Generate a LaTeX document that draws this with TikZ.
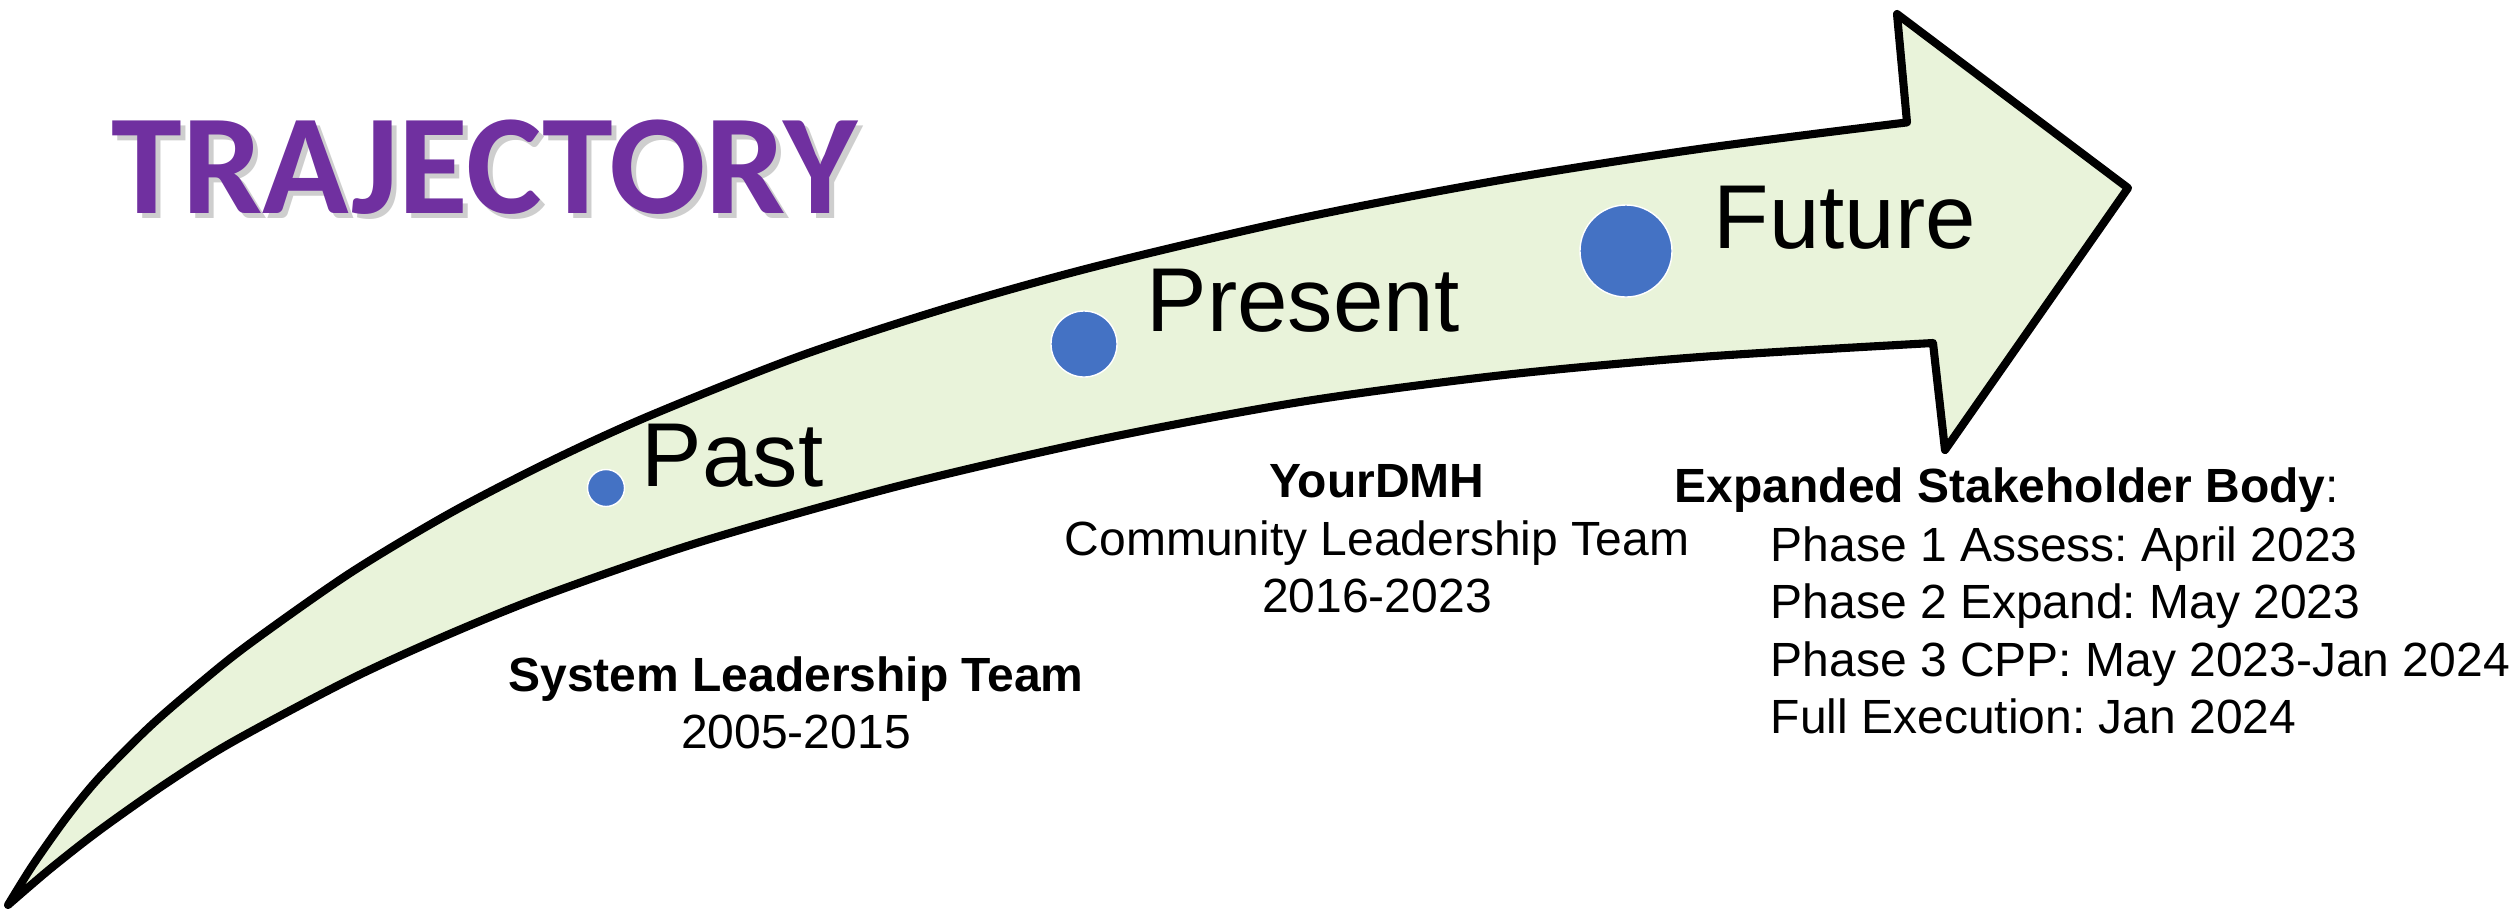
\documentclass[tikz,border=0pt]{standalone}
\usepackage{fontspec}
\setmainfont{Liberation Sans}
\newfontfamily\titlefont{Carlito}
\frenchspacing
\definecolor{arrowfill}{HTML}{E9F3DA}
\definecolor{dotblue}{HTML}{4472C4}
\definecolor{titlepurple}{HTML}{7030A0}
\tikzset{
  arrowbody/.style={draw=black, fill=arrowfill, line width=2.3pt, line join=round},
  dotc/.style={circle, fill=dotblue, draw=white, line width=0.4pt, inner sep=0pt},
  biglabel/.style={inner sep=0pt, anchor=base west, font=\fontsize{25.8pt}{30pt}\selectfont},
  txt/.style={inner sep=0pt, font=\fontsize{13.65pt}{16.4pt}\selectfont},
  txtb/.style={inner sep=0pt, font=\fontsize{13.65pt}{16.4pt}\selectfont\bfseries},
  titletxt/.style={inner sep=0pt, anchor=base west, font=\titlefont\bfseries\fontsize{40.6pt}{48pt}\selectfont}
}
\begin{document}
\begin{tikzpicture}[x=0.01cm,y=-0.01cm]
\useasboundingbox (0,0) rectangle (2517,911);

% arrow
\coordinate (tail) at (8,905);
\coordinate (uneck) at (1907,122.4);
\coordinate (btop) at (1897,14);
\coordinate (tip) at (2128,188);
\coordinate (bbot) at (1945,450);
\coordinate (lneck) at (1933,343);
\draw[arrowbody]
  plot[smooth, tension=0.5] coordinates {(8,905) (33,864.8) (67,816.8) (100,776.7) (150,726.4) (200,683.2) (250,643.4) (350,573.1) (450,513.2) (550,461.4) (650,415.6) (800,356) (950,307) (1100,265.3) (1300,218.4) (1500,180.1) (1700,148.8) (1907,122.4)}
  -- (btop) -- (tip) -- (bbot) -- (lneck)
  -- plot[smooth, tension=0.5] coordinates {(1933,343) (1700,357) (1500,375.4) (1300,402) (1100,439.4) (900,485.6) (700,542) (550,593.5) (450,633.8) (350,679.4) (233,741.6) (167,782.8) (100,829.9) (50,869) (8,905)}
  -- cycle;

% title with shadow
\node[titletxt, text=black!35, opacity=0.55] (titleshadow) at (116,218) {TRAJECTORY};
\node[titletxt, text=titlepurple] (title) at (111,213) {TRAJECTORY};

% dots
\node[dotc, minimum size=0.37cm] (dpast) at (606,488) {};
\node[dotc, minimum size=0.66cm] (dpresent) at (1084,344) {};
\node[dotc, minimum size=0.92cm] (dfuture) at (1626,251) {};

% big labels
\node[biglabel] (lpast) at (641,486) {Past};
\node[biglabel] (lpresent) at (1146,331) {Present};
\node[biglabel] (lfuture) at (1713,248) {Future};

% past text
\node[txtb, anchor=base] (slt) at (796,691) {System Leadership Team};
\node[txt, anchor=base] (sltyears) at (796,748) {2005-2015};

% present text
\node[txtb, anchor=base] (ydmh) at (1377,497) {YourDMH};
\node[txt, anchor=base] (clt) at (1377,555) {Community Leadership Team};
\node[txt, anchor=base] (cltyears) at (1377,612) {2016-2023};

% future text
\node[txt, anchor=base west] (esb) at (1674,502) {\textbf{Expanded Stakeholder Body}:};
\node[txt, anchor=base west] (ph1) at (1770,561) {Phase 1 Assess: April 2023};
\node[txt, anchor=base west] (ph2) at (1770,618) {Phase 2 Expand: May 2023};
\node[txt, anchor=base west] (ph3) at (1770,676) {Phase 3 CPP: May 2023-Jan 2024};
\node[txt, anchor=base west] (ph4) at (1770,733) {Full Execution: Jan 2024};
\end{tikzpicture}
\end{document}
